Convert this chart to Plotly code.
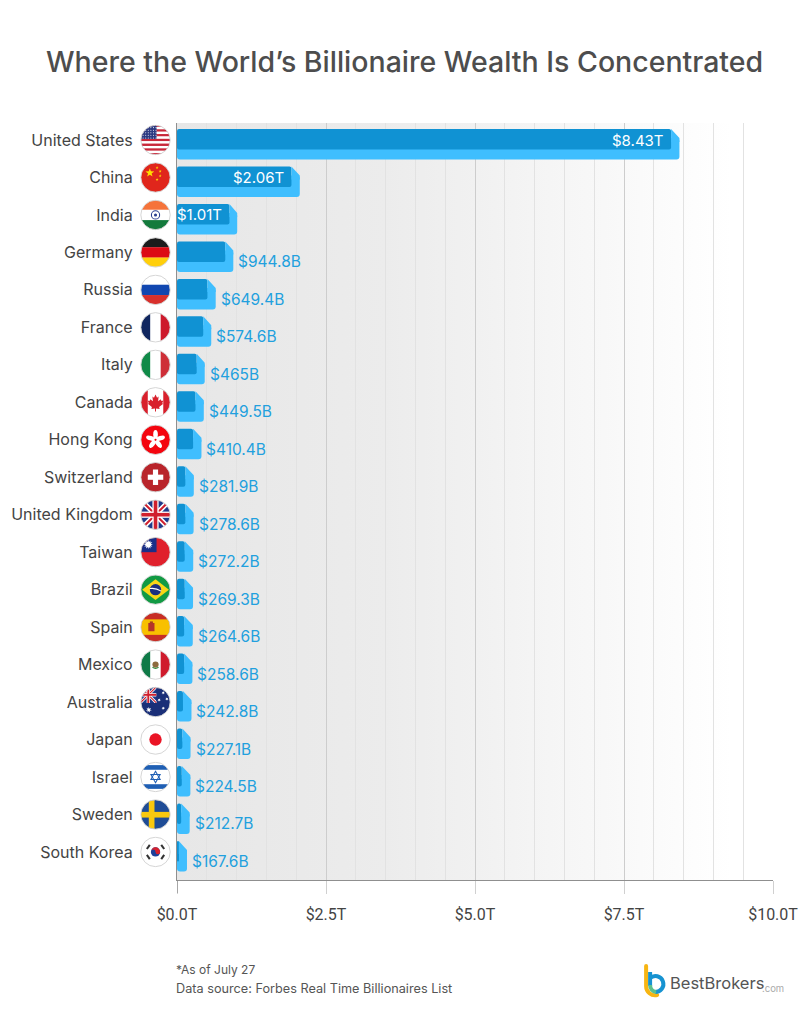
import base64, math
import plotly.graph_objects as go

countries = ["United States","China","India","Germany","Russia","France","Italy","Canada","Hong Kong","Switzerland",
             "United Kingdom","Taiwan","Brazil","Spain","Mexico","Australia","Japan","Israel","Sweden","South Korea"]
wealth_t = [8.43,2.06,1.01,0.9448,0.6494,0.5746,0.465,0.4495,0.4104,0.2819,
            0.2786,0.2722,0.2693,0.2646,0.2586,0.2428,0.2271,0.2245,0.2127,0.1676]
front_t = [8.29,1.92,0.88,0.81,0.51,0.44,0.33,0.31,0.27,0.14,
           0.14,0.13,0.13,0.12,0.12,0.10,0.09,0.08,0.07,0.03]
value_labels = ["$8.43T","$2.06T","$1.01T","$944.8B","$649.4B","$574.6B","$465B","$449.5B","$410.4B","$281.9B",
                "$278.6B","$272.2B","$269.3B","$264.6B","$258.6B","$242.8B","$227.1B","$224.5B","$212.7B","$167.6B"]
x_ticks = [0,2.5,5,7.5,10]
x_tick_labels = ["$0.0T","$2.5T","$5.0T","$7.5T","$10.0T"]

W,H = 810,1024
L,R,T,B = 176.5,773.0,123.0,880.0
ROW0,PITCH = 140.0,37.47
DARK,LIGHT = "#1092d3","#3fbefe"
LABEL_FONT = "Inter"
rows = list(range(len(countries)))

def px(v): return (v-L)/(R-L)
def py(v): return (B-v)/(B-T)
def uri(svg): return "data:image/svg+xml;base64,"+base64.b64encode(svg.encode()).decode()

def star(cx,cy,r,rot=-90,pts=5,inner=0.4,fill="#fff"):
    p=[]
    for i in range(pts*2):
        a=math.radians(rot+i*180/pts); q=r if i%2==0 else r*inner
        p.append(f"{cx+q*math.cos(a):.2f},{cy+q*math.sin(a):.2f}")
    return f'<polygon points="{" ".join(p)}" fill="{fill}"/>'
def rect(x,y,w,h,f): return f'<rect x="{x}" y="{y}" width="{w}" height="{h}" fill="{f}"/>'
def hb(*cs):
    h=60/len(cs); return "".join(rect(0,i*h,60,h+.3,c) for i,c in enumerate(cs))
def vb(*cs):
    w=60/len(cs); return "".join(rect(i*w,0,w+.3,60,c) for i,c in enumerate(cs))
def jack(s=1.0):
    return (f'<g transform="scale({s})">'+rect(0,0,60,60,"#1f3a8a")+
      '<path d="M0 0L60 60M60 0L0 60" stroke="#fff" stroke-width="10"/>'
      '<path d="M0 0L60 60M60 0L0 60" stroke="#d0202e" stroke-width="4"/>'
      +rect(24,0,12,60,"#fff")+rect(0,24,60,12,"#fff")+rect(26.5,0,7,60,"#d0202e")+rect(0,26.5,60,7,"#d0202e")+'</g>')

us=hb(*["#c8283a","#fff"]*6,"#c8283a")+rect(0,0,32,28,"#2d3a82")+"".join(
    f'<circle cx="{x}" cy="{y}" r="1" fill="#fff"/>' for y in range(6,28,5) for x in range(6,32,5))
cn=rect(0,0,60,60,"#e0261c")+star(19,21,9,fill="#ffde00")+star(33,11,3,fill="#ffde00")+star(39,18,3,fill="#ffde00")+star(39,27,3,fill="#ffde00")+star(33,34,3,fill="#ffde00")
ind=hb("#f5733a","#fff","#137a3c")+'<circle cx="30" cy="30" r="8" fill="none" stroke="#2a3f8f" stroke-width="2"/><circle cx="30" cy="30" r="3" fill="#2a3f8f"/>'
de=hb("#1c1c1c","#dc0a14","#ffcf0a")
ru=hb("#fff","#1147b0","#d8302c")
fr=vb("#10265f","#fff","#cd1a2c")
it=vb("#108a48","#fff","#ce2f38")
ca=rect(0,0,60,60,"#fff")+rect(0,0,15,60,"#d8202c")+rect(45,0,15,60,"#d8202c")+'<polygon points="30,15 33,21 36,19 35,28 40,24 41,27 45,27 43,32 45,33 37,39 38,43 31,42 31,48 29,48 29,42 22,43 23,39 15,33 17,32 15,27 19,27 20,24 25,28 24,19 27,21" fill="#d8202c"/>'
hk=rect(0,0,60,60,"#f4050f")+"".join(f'<ellipse cx="30" cy="20" rx="4.5" ry="9" fill="#fff" transform="rotate({a} 30 30)"/>' for a in range(0,360,72))+'<circle cx="30" cy="30" r="2" fill="#f4050f"/>'
ch=rect(0,0,60,60,"#b9252b")+rect(25,15,10,30,"#fff")+rect(15,25,30,10,"#fff")
uk=jack()
tw=rect(0,0,60,60,"#e0202c")+rect(0,0,32,30,"#1a2f88")+star(16,15,9,pts=12,inner=.55)
br=rect(0,0,60,60,"#129a44")+'<polygon points="30,10 56,30 30,50 4,30" fill="#f9d616"/><circle cx="30" cy="30" r="11" fill="#1c2f80"/><path d="M19 28Q30 26 41 33" stroke="#fff" stroke-width="2" fill="none"/>'
es='<rect width="60" height="60" fill="#c72e26"/>'+rect(0,15,60,30,"#f8c000")+rect(16,22,12,16,"#b5332a")+rect(19,19,6,4,"#a8401e")
mx=vb("#0f7a47","#fff","#cf1b2c")+'<circle cx="30" cy="30" r="6" fill="#8d6b3e"/><path d="M24 35Q30 40 36 35" stroke="#2f8a3a" stroke-width="2" fill="none"/>'
au=rect(0,0,60,60,"#1a2f78")+'<svg x="0" y="0" width="32" height="32" viewBox="0 0 60 60">'+jack()+'</svg>'+star(17,45,6,pts=7)+star(45,12,3.5,pts=7)+star(37,26,3.5,pts=7)+star(52,24,3.5,pts=7)+star(45,42,3.5,pts=7)
jp=rect(0,0,60,60,"#fff")+'<circle cx="30" cy="30" r="12" fill="#ea1425"/>'
il=rect(0,0,60,60,"#fff")+rect(0,7,60,9,"#1f5fb4")+rect(0,44,60,9,"#1f5fb4")+'<g fill="none" stroke="#1f5fb4" stroke-width="2"><polygon points="30,19 39,35 21,35"/><polygon points="30,41 39,25 21,25"/></g>'
se=rect(0,0,60,60,"#1f4c96")+rect(17,0,11,60,"#f9c80e")+rect(0,25,60,11,"#f9c80e")
ko=rect(0,0,60,60,"#fff")+'<circle cx="30" cy="30" r="9" fill="#1d3f9a"/><path d="M21 30A9 9 0 0 1 39 30A4.5 4.5 0 0 1 30 30A4.5 4.5 0 0 0 21 30Z" fill="#d8202c"/>'+"".join(
    f'<rect x="25" y="11" width="10" height="4" fill="#333" transform="rotate({a} 30 30)"/>' for a in (-55,55,125,235))
flag_art=[us,cn,ind,de,ru,fr,it,ca,hk,ch,uk,tw,br,es,mx,au,jp,il,se,ko]

def flag(art,i):
    return ('<svg xmlns="http://www.w3.org/2000/svg" width="120" height="120" viewBox="0 0 60 60">'
            f'<defs><clipPath id="c{i}"><circle cx="30" cy="30" r="28"/></clipPath></defs>'
            f'<g clip-path="url(#c{i})">{art}</g>'
            '<circle cx="30" cy="30" r="28.5" fill="none" stroke="#d2d2d2" stroke-width="1.8"/></svg>')

images=[dict(source=uri('<svg xmlns="http://www.w3.org/2000/svg" width="600" height="100" preserveAspectRatio="none" viewBox="0 0 600 100">'
    '<defs><linearGradient id="g"><stop offset="0" stop-color="#e7e7e7"/><stop offset="0.35" stop-color="#ececec"/><stop offset="0.93" stop-color="#ffffff"/></linearGradient></defs>'
    '<rect width="600" height="100" fill="url(#g)"/></svg>'),
    xref="x",yref="paper",x=0,y=1,sizex=10,sizey=1,sizing="stretch",xanchor="left",yanchor="top",layer="below")]
for i,a in enumerate(flag_art):
    images.append(dict(source=uri(flag(a,i)),xref="paper",yref="y",x=px(155),y=i,sizex=31/(R-L),sizey=31/PITCH,
                       xanchor="center",yanchor="middle",sizing="contain",layer="above"))
logo=('<svg xmlns="http://www.w3.org/2000/svg" width="96" height="136" viewBox="0 0 24 34">'
      '<path d="M3 2V22A9 9 0 0 0 14 31" fill="none" stroke="#f7b512" stroke-width="4" stroke-linecap="round"/>'
      '<path d="M7 8V22" fill="none" stroke="#1793d1" stroke-width="4"/>'
      '<path d="M7 14A8 8 0 1 1 12 28" fill="none" stroke="#1793d1" stroke-width="4"/>'
      '<path d="M7 21A7 7 0 0 0 13 28" fill="none" stroke="#5cc08c" stroke-width="4"/></svg>')
images.append(dict(source=uri(logo),xref="paper",yref="paper",x=px(643),y=py(964),sizex=24/(R-L),sizey=34/(B-T),
                   xanchor="left",yanchor="top",sizing="contain",layer="above"))

fig=go.Figure()
fig.add_bar(y=rows,x=wealth_t,orientation="h",base=0,offset=-2/PITCH,width=21.5/PITCH,
            marker=dict(color=LIGHT,cornerradius=3,line=dict(width=0)),hoverinfo="skip",name="Total")
fig.add_bar(y=rows,x=front_t,orientation="h",base=0,offset=-11/PITCH,width=20.5/PITCH,
            marker=dict(color=DARK,cornerradius=2,line=dict(width=0)),hoverinfo="skip",name="Front")
cx,cy=[],[]
for r,v,f in zip(rows,wealth_t,front_t):
    cx+=[f,v,v,f,None]; cy+=[r-11/PITCH,r-2/PITCH,r+2/PITCH,r+2/PITCH,None]
fig.add_scatter(x=cx,y=cy,mode="lines",fill="toself",fillcolor=LIGHT,line=dict(width=0,color=LIGHT),hoverinfo="skip",showlegend=False)

ann=[]
for r,v,f,t in zip(rows,wealth_t,front_t,value_labels):
    if v>1:
        ann.append(dict(x=f,y=r,xref="x",yref="y",text=t,showarrow=False,xanchor="right",yanchor="middle",xshift=-5,
                        font=dict(family=LABEL_FONT,size=15,color="#fff")))
    else:
        ann.append(dict(x=v,y=r,xref="x",yref="y",text=t,showarrow=False,xanchor="left",yanchor="middle",xshift=3,yshift=-9.5,
                        font=dict(family=LABEL_FONT,size=15.5,color="#22a0de")))
def txt(x,y,t,size,color,family=LABEL_FONT,anchor="left",weight=400):
    return dict(x=px(x),y=py(y),xref="paper",yref="paper",text=t,showarrow=False,xanchor=anchor,yanchor="middle",
                font=dict(family=family,size=size,color=color,weight=weight))
ann+=[txt(404,61,"Where the World’s Billionaire Wealth Is Concentrated",28.5,"#4d4d4d",anchor="center",weight=500),
      txt(173,969,"*As of July 27",12,"#555"),
      txt(173,988,"Data source: Forbes Real Time Billionaires List",12.7,"#555"),
      txt(668,983,"BestBrokers",16.5,"#555"),
      txt(760,988,".com",9.5,"#aaa")]

fig.update_layout(width=W,height=H,margin=dict(l=L,r=W-R,t=T,b=H-B,pad=0,autoexpand=False),
    paper_bgcolor="#fff",plot_bgcolor="rgba(0,0,0,0)",barmode="overlay",showlegend=False,images=images,annotations=ann,
    shapes=[dict(type="line",xref="x",yref="paper",x0=0,x1=0,y0=0,y1=-13/(B-T),line=dict(color="#8a8a8a",width=1.2))])
fig.update_xaxes(range=[0,10],tickvals=x_ticks,ticktext=x_tick_labels,ticks="outside",ticklen=13,tickcolor="#d0d0d0",tickwidth=1,
    showgrid=True,gridcolor="#cdcdcd",gridwidth=1,zeroline=False,showline=True,linecolor="#8f8f8f",linewidth=1.2,
    minor=dict(dtick=0.5,showgrid=True,gridcolor="#e2e2e2",gridwidth=1,ticks=""),ticklabelstandoff=7,
    tickfont=dict(family="Roboto",size=16,color="#444"))
fig.update_yaxes(range=[(B-ROW0)/PITCH,(T-ROW0)/PITCH],tickvals=rows,ticktext=countries,ticks="",showgrid=False,zeroline=False,
    showline=True,linecolor="#8f8f8f",linewidth=1.2,ticklabelstandoff=40,tickfont=dict(family=LABEL_FONT,size=16,color="#444"))
fig.write_html("out.html",config=dict(displayModeBar=False),post_script="document.body.style.margin='0';")
